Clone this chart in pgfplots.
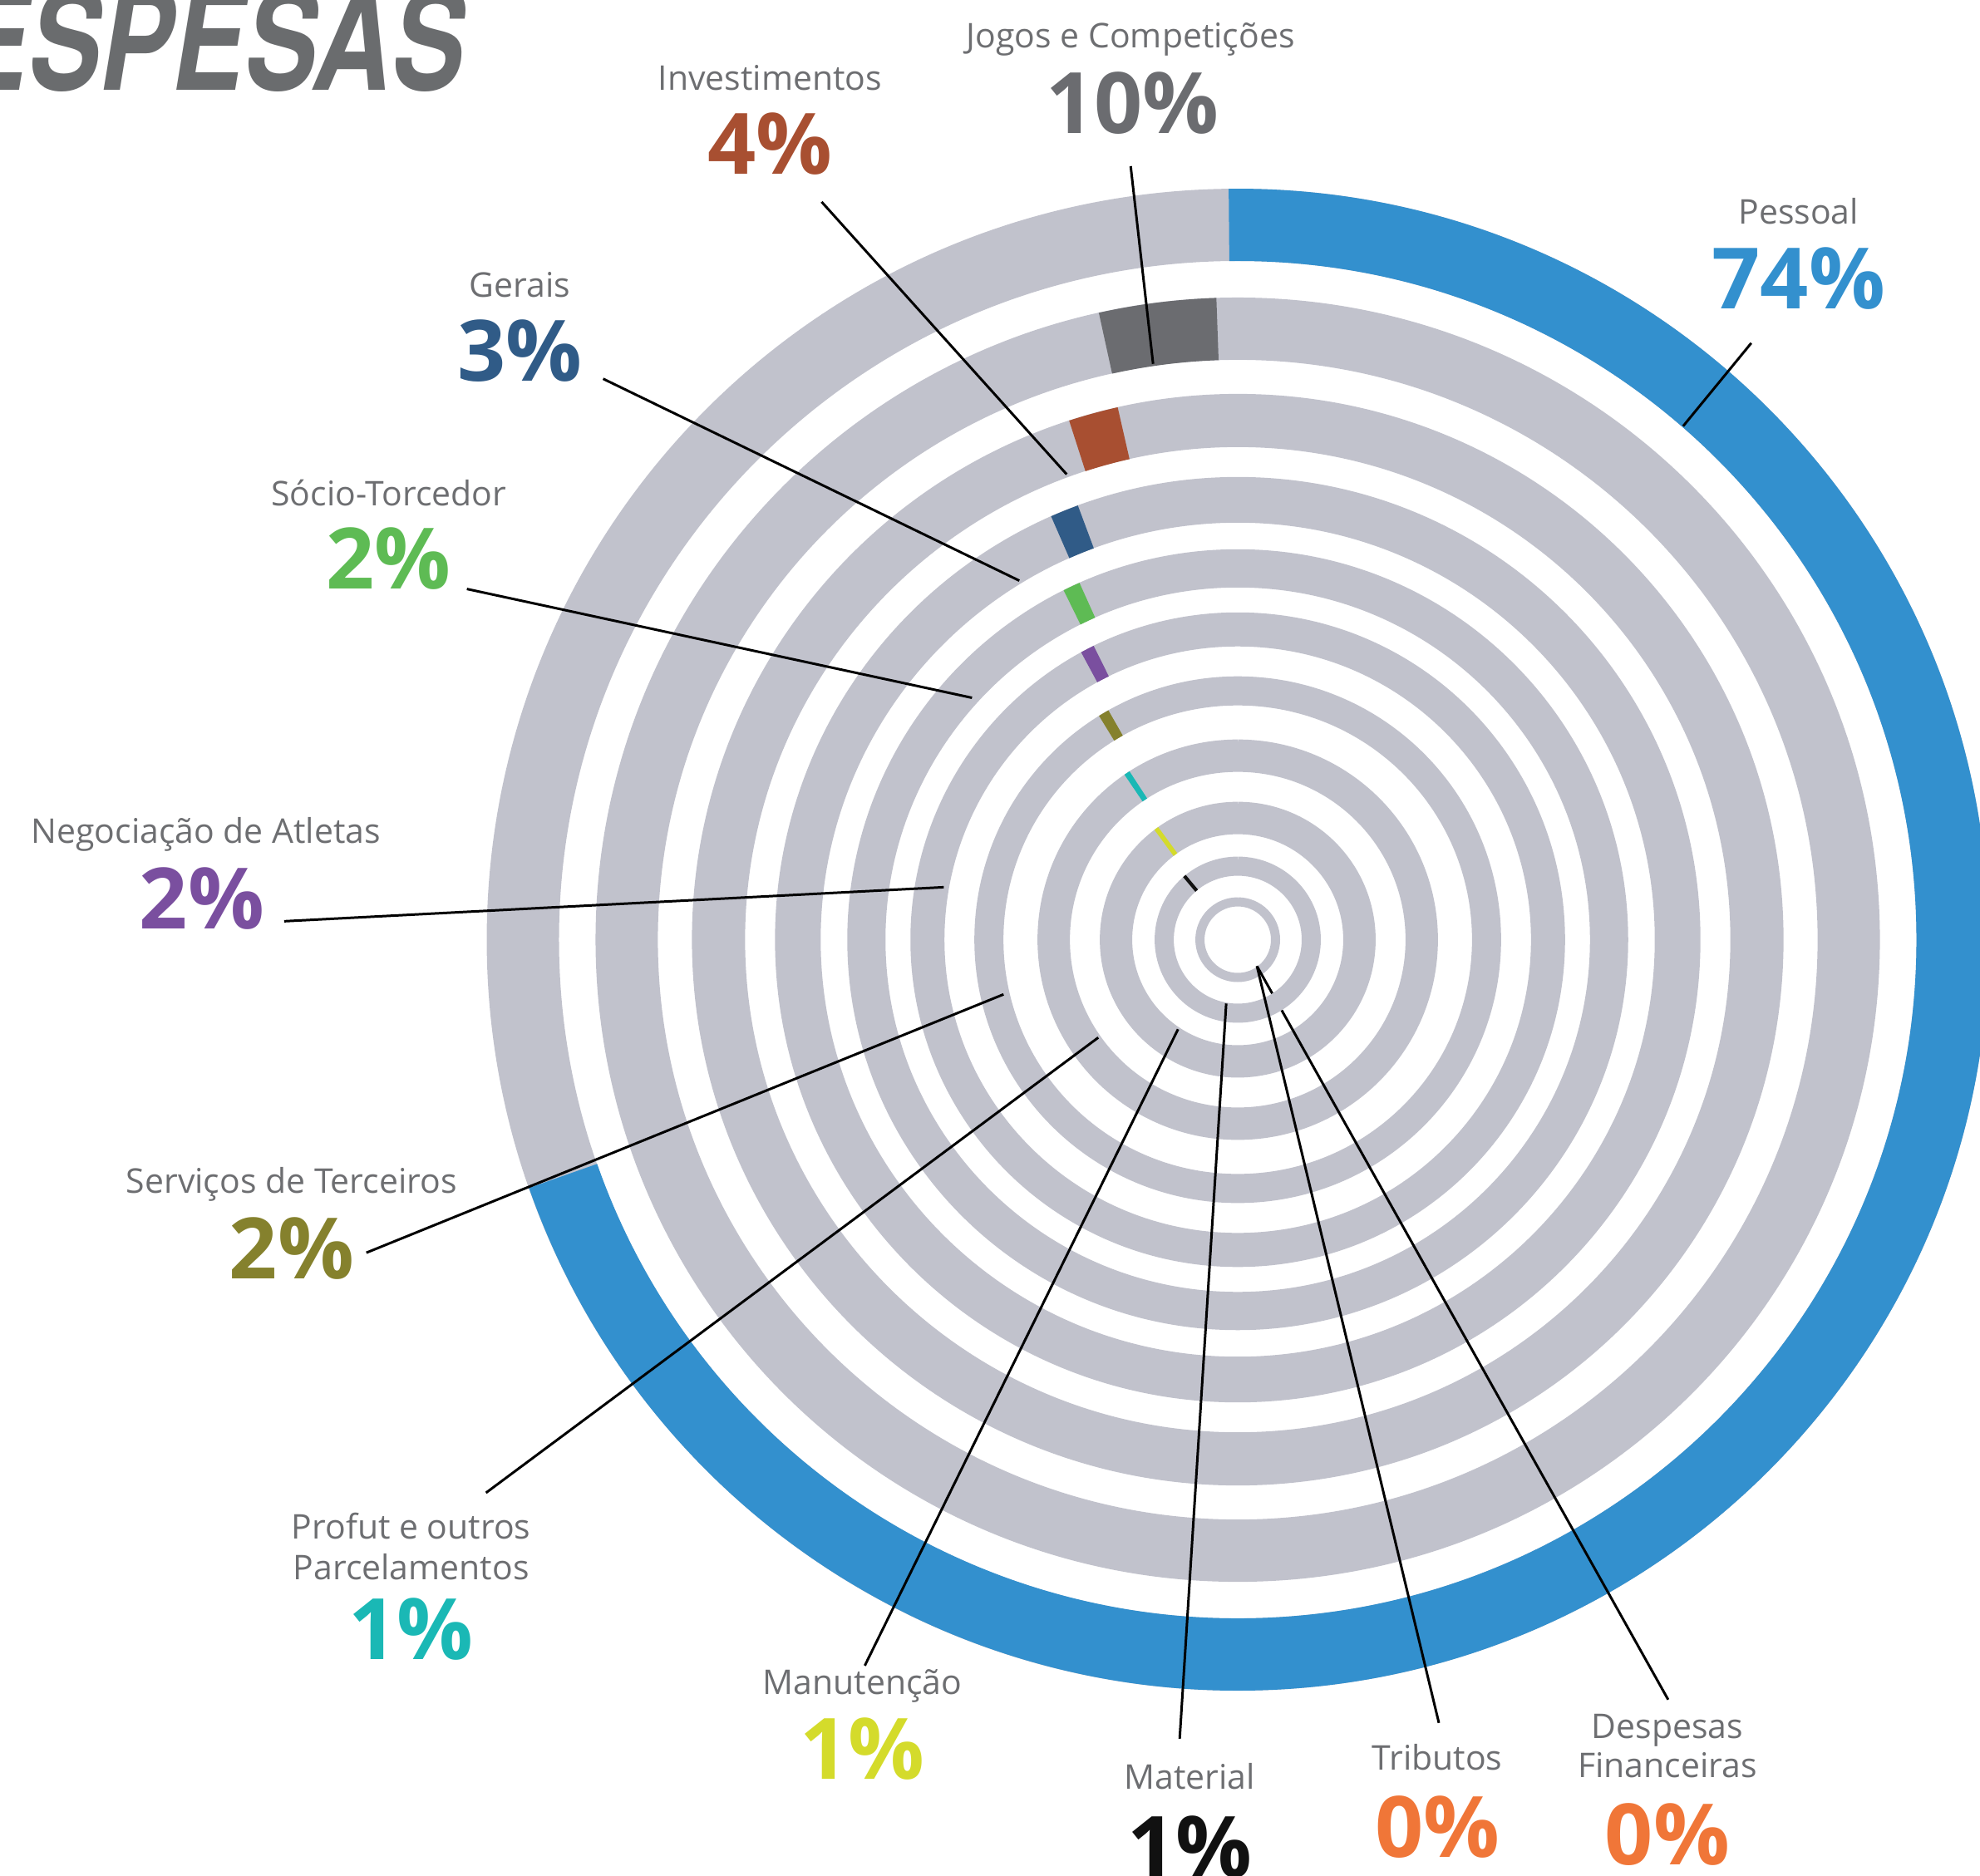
\documentclass[border=0pt]{standalone}
\usepackage{graphicx}
\usepackage{pgfplots}
\pgfplotsset{compat=1.18}
\usepackage{fontspec}
\setmainfont{Open Sans}
\newfontfamily\titlefont{TeX Gyre Heros}

\definecolor{ringgray}{HTML}{C1C2CC}
\definecolor{cpessoal}{HTML}{3390CE}
\definecolor{cjogos}{HTML}{6B6C70}
\definecolor{cinvest}{HTML}{A84F31}
\definecolor{cgerais}{HTML}{305B87}
\definecolor{csocio}{HTML}{5EBB54}
\definecolor{cnegoc}{HTML}{7A4F9F}
\definecolor{cserv}{HTML}{85812D}
\definecolor{cprofut}{HTML}{1AB8B5}
\definecolor{cmanut}{HTML}{D4DB2B}
\definecolor{cmaterial}{HTML}{111111}
\definecolor{corange}{HTML}{F07638}
\definecolor{labelgray}{HTML}{6D6E71}
\definecolor{titlegray}{HTML}{6A6C6E}

\pgfdeclareplotmark{void}{}

% ring={mid radius}{width}{from}{to}{colour}: radii in px, angles in degrees
% clockwise from 12 o'clock; plotted at the ring centre
\pgfplotsset{
  ring/.style n args={5}{
    scatter, only marks, mark=void,
    point meta min=0, point meta max=3000,
    scatter/@pre marker code/.code={%
      \pgfmathsetlengthmacro\rlen{#1*0.01cm}%
      \pgfmathsetlengthmacro\wlen{#2*0.01cm}%
      \pgfmathsetmacro\tA{90-(#3)}%
      \pgfmathsetmacro\tB{90-(#4)}%
      \draw[line width=\wlen, draw=#5, line cap=butt]
        (\tA:\rlen) arc[start angle=\tA, end angle=\tB, radius=\rlen];
    },
    scatter/@post marker code/.code={},
  },
  pxaxis/.style={
    at={(0,0)}, anchor=south west,
    scale only axis, width=23.82cm, height=22.56cm,
    xmin=0, xmax=2382, ymin=0, ymax=2256, y dir=reverse,
    hide axis, clip=false,
  },
}
\tikzset{
  lab/.style={anchor=base, inner sep=0pt, text=labelgray, font=\fontsize{11.65}{14}\selectfont},
  pct/.style={anchor=base, inner sep=0pt, font=\fontsize{29}{30}\selectfont\bfseries},
  leader/.style={line width=0.85pt, black},
  px/.style={x=0.01cm, y=-0.01cm, yshift=22.56cm},
}

\begin{document}
\begin{tikzpicture}
\path[use as bounding box] (0,0) rectangle (23.82cm,22.56cm);
\clip (0,0) rectangle (23.82cm,22.56cm);
\begin{axis}[pxaxis]
% Pessoal 74%
\addplot[ring={860.5}{87}{0}{360}{ringgray}] coordinates {(1489,1130.5)};
\addplot[ring={860.5}{87}{-0.7}{250.7}{cpessoal}] coordinates {(1489,1130.5)};
% Jogos e Competicoes 10%
\addplot[ring={735.5}{75}{0}{360}{ringgray}] coordinates {(1489,1130.5)};
\addplot[ring={735.5}{75}{-12.5}{-1.9}{cjogos}] coordinates {(1489,1130.5)};
% Investimentos 4%
\addplot[ring={625}{64}{0}{360}{ringgray}] coordinates {(1489,1130.5)};
\addplot[ring={625}{64}{-18.0}{-12.7}{cinvest}] coordinates {(1489,1130.5)};
% Gerais 3%
\addplot[ring={529.5}{55}{0}{360}{ringgray}] coordinates {(1489,1130.5)};
\addplot[ring={529.5}{55}{-23.8}{-20.2}{cgerais}] coordinates {(1489,1130.5)};
% Socio-Torcedor 2%
\addplot[ring={447}{46}{0}{360}{ringgray}] coordinates {(1489,1130.5)};
\addplot[ring={447}{46}{-26.5}{-23.9}{csocio}] coordinates {(1489,1130.5)};
% Negociacao de Atletas 2%
\addplot[ring={373.5}{41}{0}{360}{ringgray}] coordinates {(1489,1130.5)};
\addplot[ring={373.5}{41}{-28.6}{-26.1}{cnegoc}] coordinates {(1489,1130.5)};
% Servicos de Terceiros 2%
\addplot[ring={299.5}{35}{0}{360}{ringgray}] coordinates {(1489,1130.5)};
\addplot[ring={299.5}{35}{-31.8}{-29.4}{cserv}] coordinates {(1489,1130.5)};
% Profut 1%
\addplot[ring={221.5}{39}{0}{360}{ringgray}] coordinates {(1489,1130.5)};
\addplot[ring={221.5}{39}{-34.5}{-32.7}{cprofut}] coordinates {(1489,1130.5)};
% Manutencao 1%
\addplot[ring={146.5}{39}{0}{360}{ringgray}] coordinates {(1489,1130.5)};
\addplot[ring={146.5}{39}{-37.3}{-35.1}{cmanut}] coordinates {(1489,1130.5)};
% Tributos / Despesas Financeiras 0%
\addplot[ring={45.5}{11}{0}{360}{ringgray}] coordinates {(1489,1130.5)};
\end{axis}

\begin{scope}[px]
\draw[leader] (2008,2046) -- (1513,1163);
\end{scope}

\begin{axis}[pxaxis]
% Material 1%
\addplot[ring={88.5}{23}{0}{360}{ringgray}] coordinates {(1489,1130.5)};
\addplot[ring={88.5}{23}{-41.3}{-38.6}{cmaterial}] coordinates {(1489,1130.5)};
\end{axis}

\begin{scope}[px]
% leader lines
\draw[leader] (1361,200) -- (1388,438);
\draw[leader] (989,243) -- (1284,571);
\draw[leader] (2108,413) -- (2026,513);
\draw[leader] (726,456) -- (1227,699);
\draw[leader] (562,709) -- (1170,840);
\draw[leader] (342,1109) -- (1136,1068);
\draw[leader] (441,1508) -- (1208,1197);
\draw[leader] (585,1797) -- (1322,1249);
\draw[leader] (1041,2005) -- (1418,1239);
\draw[leader] (1420,2093) -- (1476,1208);
\draw[leader] (1732,2074) -- (1513,1163);

% title
\node[anchor=base east, inner sep=0pt, text=titlegray] at (559,109)
  {\scalebox{0.77}[1]{\titlefont\bfseries\itshape\fontsize{48}{48}\selectfont DESPESAS}};

% labels
\node[lab] at (1361,58) {Jogos e Competições};
\node[pct, text=cjogos] at (1363,161) {10\%};
\node[lab] at (927,109) {Investimentos};
\node[pct, text=cinvest] at (927,210) {4\%};
\node[lab] at (2165,270) {Pessoal};
\node[pct, text=cpessoal] at (2165,372) {74\%};
\node[lab] at (626,358) {Gerais};
\node[pct, text=cgerais] at (626,459) {3\%};
\node[lab] at (468,609) {Sócio-Torcedor};
\node[pct, text=csocio] at (468,709) {2\%};
\node[lab] at (248,1015) {Negociação de Atletas};
\node[pct, text=cnegoc] at (243,1118) {2\%};
\node[lab] at (351,1436) {Serviços de Terceiros};
\node[pct, text=cserv] at (351,1539) {2\%};
\node[lab] at (495,1853) {Profut e outros};
\node[lab] at (495,1902) {Parcelamentos};
\node[pct, text=cprofut] at (495,1998) {1\%};
\node[lab] at (1038,2040) {Manutenção};
\node[pct, text=cmanut] at (1038,2142) {1\%};
\node[lab] at (1432,2154) {Material};
\node[pct, text=cmaterial] at (1432,2260) {1\%};
\node[lab] at (1730,2131) {Tributos};
\node[pct, text=corange] at (1730,2236) {0\%};
\node[lab] at (2007,2093) {Despesas};
\node[lab] at (2007,2140) {Financeiras};
\node[pct, text=corange] at (2007,2245) {0\%};
\end{scope}
\end{tikzpicture}
\end{document}
